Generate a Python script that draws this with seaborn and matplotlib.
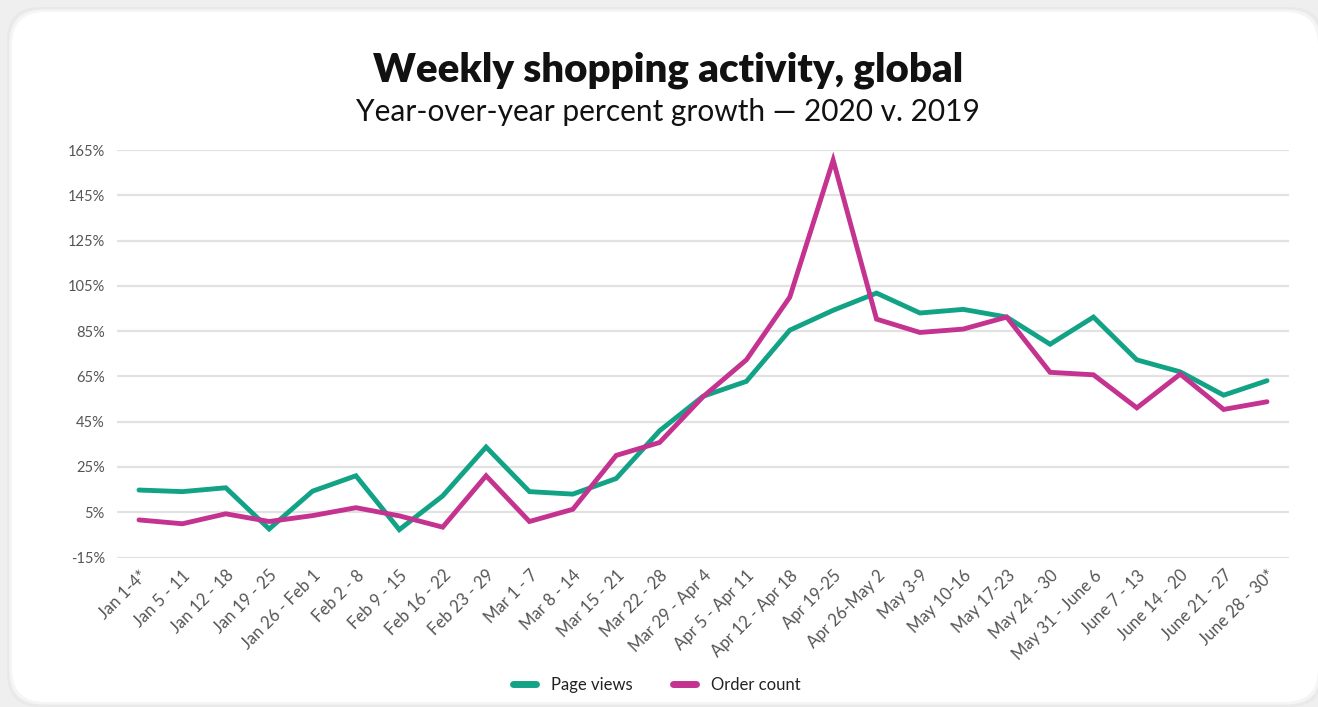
import numpy as np
import pandas as pd
import matplotlib
matplotlib.use("Agg")
import matplotlib.pyplot as plt
import seaborn as sns
from matplotlib.patches import FancyBboxPatch
from matplotlib.ticker import FixedLocator

weeks = [
    "Jan 1-4*", "Jan 5 - 11", "Jan 12 - 18", "Jan 19 - 25", "Jan 26 - Feb 1",
    "Feb 2 - 8", "Feb 9 - 15", "Feb 16 - 22", "Feb 23 - 29", "Mar 1 - 7",
    "Mar 8 - 14", "Mar 15 - 21", "Mar 22 - 28", "Mar 29 - Apr 4", "Apr 5 - Apr 11",
    "Apr 12 - Apr 18", "Apr 19-25", "Apr 26-May 2", "May 3-9", "May 10-16",
    "May 17-23", "May 24 - 30", "May 31 - June 6", "June 7 - 13", "June 14 - 20",
    "June 21 - 27", "June 28 - 30*",
]
page_views = [14.8, 14.1, 15.8, -2.4, 14.3, 21.1, -2.7, 12.2, 33.8, 14.1,
              13.0, 19.9, 41.0, 56.2, 62.8, 85.4, 94.2, 101.8, 93.0, 94.6,
              91.2, 79.2, 91.2, 72.3, 67.0, 56.7, 63.1]
order_count = [1.6, -0.1, 4.3, 0.9, 3.5, 7.0, 3.4, -1.6, 21.1, 0.9,
               6.3, 30.1, 35.8, 56.0, 72.3, 100.0, 160.5, 90.3, 84.4, 85.9,
               91.2, 66.8, 65.7, 51.1, 66.0, 50.4, 53.8]
y_ticks = [-15, 5, 25, 45, 65, 85, 105, 125, 145, 165]
series_names = ["Page views", "Order count"]
series_colors = ["#12a386", "#c4338f"]

df = pd.DataFrame({
    "week": list(range(len(weeks))) * 2,
    "growth": page_views + order_count,
    "series": [series_names[0]] * len(weeks) + [series_names[1]] * len(weeks),
})

sns.set_theme(style="white")
plt.rcParams["font.family"] = ["Lato", "DejaVu Sans"]

W, H = 1318, 707
fig = plt.figure(figsize=(W / 100, H / 100), dpi=100)
fig.patch.set_facecolor("#efefef")

# white rounded card with a soft edge, kept behind the axes
for pad, col in [(5, "#e9e9e9"), (2.5, "#f5f5f5"), (0, "white")]:
    card = FancyBboxPatch(
        ((12 - pad) / W, (5 - pad) / H), (1306 + 2 * pad) / W, (690 + 2 * pad) / H,
        boxstyle="round,pad=0,rounding_size=0.025", transform=fig.transFigure,
        facecolor=col, edgecolor="none", zorder=-10, mutation_aspect=W / H)
    fig.patches.append(card)

left, right = 117.3, 1288.7
top, bottom = 150.0, 557.5
ax = fig.add_axes([left / W, 1 - bottom / H, (right - left) / W, (bottom - top) / H])
ax.set_facecolor("none")
ax.set_zorder(1)

sns.lineplot(data=df, x="week", y="growth", hue="series",
             palette=series_colors, hue_order=series_names,
             linewidth=3.5, ax=ax, legend=False, zorder=3)
for ln in ax.get_lines():
    ln.set_solid_joinstyle("miter")

ax.set_xlim(-0.5, len(weeks) - 0.5)
ax.set_ylim(-15, 165)
ax.yaxis.set_major_locator(FixedLocator(y_ticks))
ax.set_yticklabels([f"{t}%" for t in y_ticks])
ax.xaxis.set_major_locator(FixedLocator(range(len(weeks))))
ax.set_xticklabels(weeks, rotation=45, ha="right", rotation_mode="anchor")
ax.tick_params(axis="x", length=0, pad=7, labelsize=12, labelcolor="#555555")
ax.tick_params(axis="y", length=0, pad=9, labelsize=10.5, labelcolor="#555555")
ax.grid(axis="y", color="#e2e2e2", linewidth=1.6, zorder=0)
ax.grid(axis="x", visible=False)
for s in ax.spines.values():
    s.set_visible(False)
ax.set_xlabel("")
ax.set_ylabel("")

fig.text(668 / W, 1 - 70 / H, "Weekly shopping activity, global",
         ha="center", va="center", fontsize=29, fontweight="heavy", color="#111111")
fig.text(668 / W, 1 - 112 / H, "Year-over-year percent growth \u2014 2020 v. 2019",
         ha="center", va="center", fontsize=21.5, color="#111111")

handles = [plt.Line2D([], [], color=c, linewidth=5, solid_capstyle="round")
           for c in series_colors]
fig.legend(handles, series_names, loc="center", bbox_to_anchor=(657 / W, 1 - 685 / H),
           ncol=2, frameon=False, fontsize=12, handlelength=1.4, handletextpad=0.9,
           columnspacing=2.4, labelcolor="#222222")

fig.savefig("out.png", dpi=100, facecolor=fig.get_facecolor())
